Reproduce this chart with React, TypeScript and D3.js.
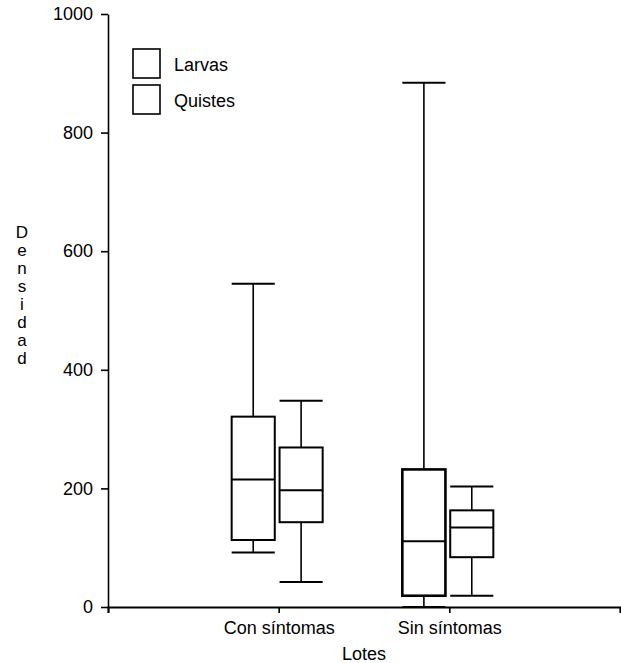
import { useEffect, useRef } from 'react'
import * as d3 from 'd3'

const lotes = ['Con síntomas', 'Sin síntomas']
const series = ['Larvas', 'Quistes']

// five-number summaries per lote: [min, q1, median, q3, max]
const larvas = [
  [92, 113, 215, 321, 545],
  [0, 19, 111, 232, 884],
]
const quistes = [
  [42, 143, 197, 269, 348],
  [19, 84, 134, 163, 203],
]

const yTicks = [0, 200, 400, 600, 800, 1000]
const yLabel = 'Densidad'

export default function App() {
  const ref = useRef<SVGSVGElement>(null)

  useEffect(() => {
    const svg = d3.select(ref.current)
    svg.selectAll('*').remove()

    const font = '"Liberation Sans", Arial, sans-serif'

    // lotes sit at positions 1 and 2 on a 0..3 axis
    const x = d3.scaleLinear().domain([0, lotes.length + 1]).range([108, 620])
    const y = d3.scaleLinear().domain([0, 1000]).range([607, 14])
    const inner = d3.scaleBand().domain(series).range([-47, 44]).paddingInner(0.1)

    // Y axis
    svg.append('g')
      .attr('transform', `translate(${x(0)},0)`)
      .call(d3.axisLeft(y).tickValues(yTicks).tickFormat(d3.format('d')).tickSize(7).tickSizeOuter(0).tickPadding(8))
      .call(g => g.select('.domain').attr('stroke-width', 1.6))
      .call(g => g.selectAll('.tick line').attr('stroke-width', 1.6))
      .selectAll('text')
      .style('font-family', font)
      .style('font-size', '18px')
      .style('fill', '#000')

    // X axis
    svg.append('g')
      .attr('transform', `translate(0,${y(0)})`)
      .call(d3.axisBottom(x).tickValues(lotes.map((_, i) => i + 1)).tickSize(6).tickSizeOuter(6)
        .tickFormat((_, i) => lotes[i]).tickPadding(8))
      .call(g => g.select('.domain').attr('stroke-width', 2.2))
      .call(g => g.selectAll('.tick line').attr('stroke-width', 1.6))
      .selectAll('text')
      .style('font-family', font)
      .style('font-size', '18px')
      .style('fill', '#000')

    // Boxes
    const data = series.flatMap((s, si) =>
      lotes.map((l, li) => {
        const v = (si === 0 ? larvas : quistes)[li]
        return { s, cx: x(li + 1) + inner(s)! + inner.bandwidth() / 2, v }
      })
    )
    const w = inner.bandwidth()

    const box = svg.append('g').selectAll('g').data(data).join('g')

    box.append('line')
      .attr('x1', d => d.cx).attr('x2', d => d.cx)
      .attr('y1', d => y(d.v[0])).attr('y2', d => y(d.v[4]))
      .attr('stroke', '#000').attr('stroke-width', 1.6)

    box.selectAll('.cap')
      .data(d => [d.v[0], d.v[4]].map(val => ({ cx: d.cx, val })))
      .join('line')
      .attr('class', 'cap')
      .attr('x1', d => d.cx - w / 2).attr('x2', d => d.cx + w / 2)
      .attr('y1', d => y(d.val)).attr('y2', d => y(d.val))
      .attr('stroke', '#000').attr('stroke-width', 2)

    box.append('rect')
      .attr('x', d => d.cx - w / 2)
      .attr('width', w)
      .attr('y', d => y(d.v[3]))
      .attr('height', d => y(d.v[1]) - y(d.v[3]))
      .attr('fill', '#fff')
      .attr('stroke', '#000')
      .attr('stroke-width', d => d.s === 'Larvas' && d.v[4] > 800 ? 2.6 : 2)

    box.append('line')
      .attr('x1', d => d.cx - w / 2).attr('x2', d => d.cx + w / 2)
      .attr('y1', d => y(d.v[2])).attr('y2', d => y(d.v[2]))
      .attr('stroke', '#000').attr('stroke-width', 2)

    // Legend
    const legend = svg.append('g').selectAll('g').data(series).join('g')
      .attr('transform', (_, i) => `translate(133,${49 + i * 36})`)
    legend.append('rect')
      .attr('width', 27).attr('height', 29)
      .attr('fill', '#fff').attr('stroke', '#000').attr('stroke-width', 1.6)
    legend.append('text')
      .attr('x', 41).attr('y', 22)
      .style('font-family', font).style('font-size', '18px')
      .text(d => d)

    // Axis titles
    svg.append('text')
      .attr('x', x(0) + (x(lotes.length + 1) - x(0)) / 2)
      .attr('y', 660)
      .attr('text-anchor', 'middle')
      .style('font-family', font).style('font-size', '18px')
      .text('Lotes')

    svg.append('g').selectAll('text').data(yLabel.split('')).join('text')
      .attr('x', 22)
      .attr('y', (_, i) => 238 + i * 18)
      .attr('text-anchor', 'middle')
      .style('font-family', font).style('font-size', '17px')
      .text(d => d)
  }, [])

  return (
    <div style={{ position: 'absolute', left: 0, top: 0, background: '#fff' }}>
      <svg ref={ref} width={621} height={663} style={{ display: 'block' }} />
    </div>
  )
}
